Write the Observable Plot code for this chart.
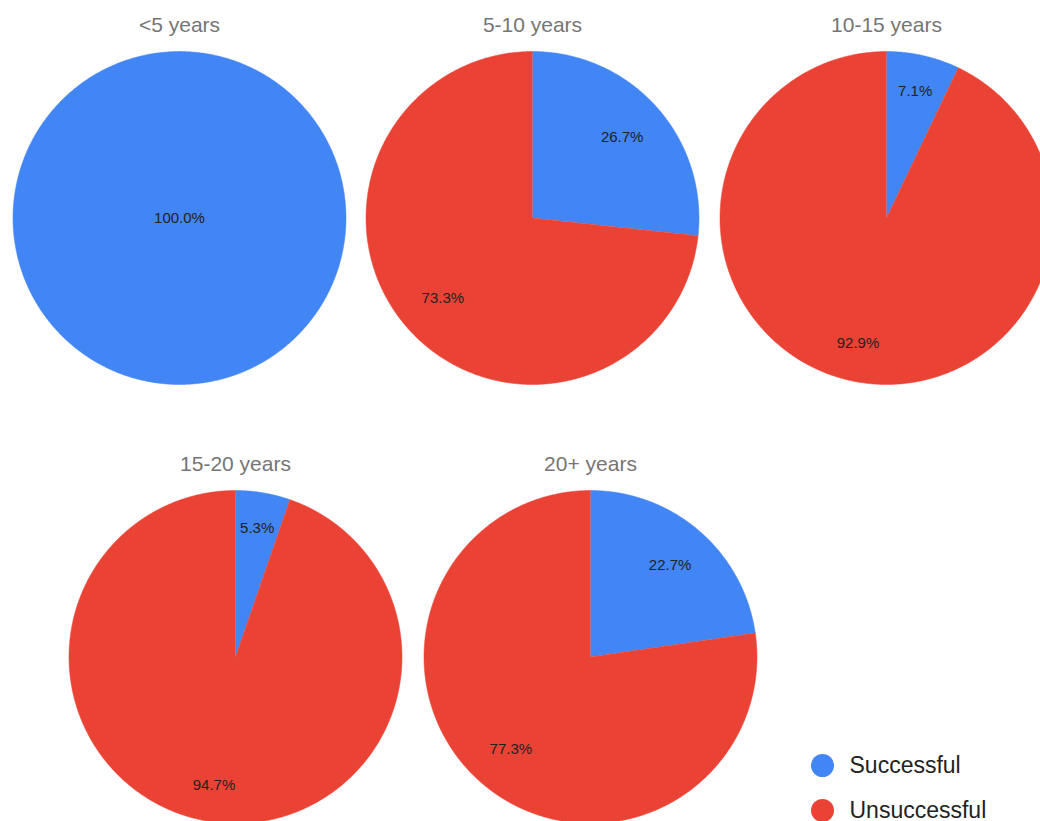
<!DOCTYPE html>
<html>
<head>
<meta charset="utf-8">
<script src="https://cdn.jsdelivr.net/npm/d3@7"></script>
<script src="https://cdn.jsdelivr.net/npm/@observablehq/plot@0.6"></script>
<style>
  html, body { margin: 0; padding: 0; background: #fff; }
  #chart { position: relative; width: 1040px; height: 821px; overflow: hidden; background: #fff; }
  #chart > svg, #chart > figure { position: absolute; margin: 0; }
</style>
</head>
<body>
<div id="chart"></div>
<script>
// ---- data ----
const groups = ["<5 years", "5-10 years", "10-15 years", "15-20 years", "20+ years"];
const outcomes = ["Successful", "Unsuccessful"];
const successful = [100.0, 26.7, 7.1, 5.3, 22.7];
const unsuccessful = [0.0, 73.3, 92.9, 94.7, 77.3];
const colors = ["#4285F4", "#EA4335"];

// ---- layout ----
const pieCenters = [[179, 217.5], [532, 217.5], [886, 217.5], [235, 656], [590, 656]];
const R = 166.5;          // pie radius in px
const W = 340, H = 400;   // each pie panel
const PCX = 170, PCY = 217.5;
const FONT = "Arial, 'Liberation Sans', sans-serif";
const labelSize = 15;

const chart = document.getElementById("chart");

groups.forEach((g, i) => {
  const vals = [successful[i], unsuccessful[i]];
  const total = d3.sum(vals);
  const pts = [];
  const labels = [];
  let a0 = 0;
  vals.forEach((v, k) => {
    const frac = v / total;
    if (frac <= 0) return;
    const a1 = a0 + frac * 2 * Math.PI;
    const n = Math.max(2, Math.ceil((a1 - a0) / (Math.PI / 360)));
    if (frac < 1) pts.push({outcome: outcomes[k], x: 0, y: 0});
    for (let j = 0; j <= n; j++) {
      const a = a0 + (a1 - a0) * j / n;
      pts.push({outcome: outcomes[k], x: Math.sin(a), y: Math.cos(a)});
    }
    const text = v.toFixed(1) + "%";
    if (frac >= 1) {
      labels.push({x: 0, y: 0, text});
    } else {
      const m = (a0 + a1) / 2;
      const hw = text.length * 0.52 * labelSize / 2, hh = 6;
      const dpx = 0.835 * R - (hw * Math.abs(Math.sin(m)) + hh * Math.abs(Math.cos(m)));
      const d = dpx / R;
      labels.push({x: d * Math.sin(m), y: d * Math.cos(m), text});
    }
    a0 = a1;
  });

  const plot = Plot.plot({
    width: W,
    height: H,
    margin: 0,
    style: {background: "transparent", fontFamily: FONT, overflow: "visible"},
    x: {domain: [-1, 1], range: [PCX - R, PCX + R], axis: null},
    y: {domain: [-1, 1], range: [PCY + R, PCY - R], axis: null},
    color: {domain: outcomes, range: colors},
    marks: [
      Plot.line(pts, {x: "x", y: "y", z: "outcome", fill: "outcome", stroke: "outcome", strokeWidth: 0.5}),
      Plot.text(labels, {x: "x", y: "y", text: "text", fill: "#222", fontSize: labelSize, lineAnchor: "middle"}),
      Plot.text([g], {frameAnchor: "top", dy: 24.5, text: d => d, fill: "#757575", fontSize: 21, lineAnchor: "middle"})
    ]
  });
  plot.style.left = (pieCenters[i][0] - PCX) + "px";
  plot.style.top = (pieCenters[i][1] - PCY) + "px";
  chart.appendChild(plot);
});

// ---- legend ----
const legend = Plot.plot({
  width: 240,
  height: 90,
  margin: 0,
  style: {background: "transparent", fontFamily: FONT, overflow: "visible"},
  x: {domain: [0, 1], range: [22, 222], axis: null},
  y: {type: "point", domain: outcomes, range: [23, 68], padding: 0, axis: null},
  color: {domain: outcomes, range: colors},
  marks: [
    Plot.dot(outcomes, {x: () => 0, y: d => d, r: 11.5, fill: d => d, stroke: null}),
    Plot.text(outcomes, {x: () => 0, y: d => d, text: d => d, dx: 27, textAnchor: "start", fill: "#222", fontSize: 23, lineAnchor: "middle"})
  ]
});
legend.style.left = "800px";
legend.style.top = "742px";
chart.appendChild(legend);
</script>
</body>
</html>
